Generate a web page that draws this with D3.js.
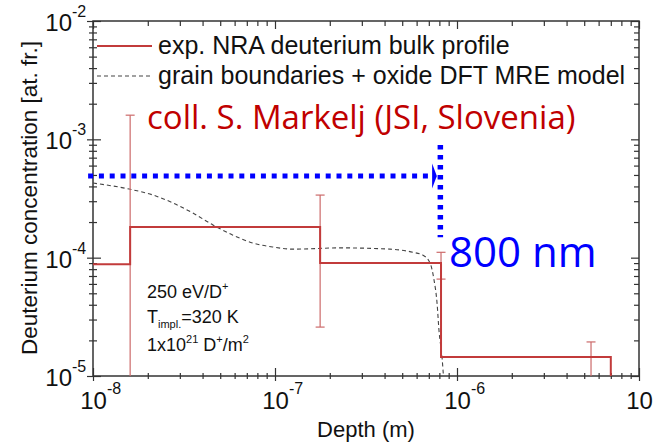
<!DOCTYPE html>
<html>
<head>
<meta charset="utf-8">
<script src="https://cdn.jsdelivr.net/npm/d3@7"></script>
<style>
  body { margin: 0; background: #fff; }
  svg text { font-family: "Liberation Sans", Arial, sans-serif; fill: #111; }
</style>
</head>
<body>
<div class="chart"></div>
<script>
//Width and height
var width = 653, height = 446;

// measured NRA step profile (depth in m, concentration in at. fr.)
var stepEdges = [1e-8, 1.6e-8, 1.77e-7, 8.17e-7, 7.0e-6];
var stepLevels = [8.8e-5, 1.82e-4, 9.0e-5, 1.45e-5];

// error bars
var errDepth = [1.6e-8, 1.77e-7, 8.17e-7, 5.45e-6];
var errLow = [5e-6, 2.59e-5, 6.59e-5, 5e-6];
var errHigh = [1.6e-3, 3.38e-4, 1.11e-4, 1.94e-5];

// grain boundaries + oxide DFT MRE model
var modelDepth = [1e-8, 1.58e-8, 2.14e-8, 2.75e-8, 3.54e-8, 4.56e-8, 5.87e-8, 7.56e-8, 9.75e-8,
    1.26e-7, 2.28e-7, 4.28e-7, 5.73e-7, 6.5e-7, 7.11e-7, 7.48e-7, 7.77e-7, 7.96e-7, 8.27e-7, 8.38e-7, 8.5e-7];
var modelConc = [4.27e-4, 3.8e-4, 3.38e-4, 2.9e-4, 2.38e-4, 1.89e-4, 1.55e-4, 1.33e-4, 1.23e-4,
    1.18e-4, 1.21e-4, 1.18e-4, 1.11e-4, 1.05e-4, 9.0e-5, 6.47e-5, 4.13e-5, 2.44e-5, 1.45e-5, 1.12e-5, 8e-6];

// blue annotation (arrow to 800 nm)
var arrowDepth = [9.4e-9, 7.3e-7, 7.75e-7];
var arrowConc = 4.9e-4;
var markDepth = 8.1e-7;
var markConc = [8.95e-4, 1.49e-4];

// axis labels
var xMajor = [1e-8, 1e-7, 1e-6, 1e-5];
var xMajorExp = ["-8", "-7", "-6", "-5"];
var yMajor = [1e-5, 1e-4, 1e-3, 1e-2];
var yMajorExp = ["-5", "-4", "-3", "-2"];

var plotLeft = 93, plotRight = 639, plotTop = 21, plotBottom = 376;

var x = d3.scaleLog().domain([1e-8, 1e-5]).range([plotLeft, plotRight]);
var y = d3.scaleLog().domain([1e-5, 1e-2]).range([plotBottom, plotTop]);

var svg = d3.select("div.chart")
    .append("svg")
    .attr("width", width)
    .attr("height", height);

svg.append("defs").append("clipPath")
    .attr("id", "plotclip")
    .append("rect")
    .attr("x", plotLeft).attr("y", plotTop)
    .attr("width", plotRight - plotLeft).attr("height", plotBottom - plotTop);

// minor ticks = all log ticks minus the decades
var xMinor = x.ticks().filter(function (d) { return xMajor.indexOf(d) < 0; });
var yMinor = y.ticks().filter(function (d) { return yMajor.indexOf(d) < 0; });

function styleAxis(g) {
    g.select(".domain").remove();
    g.selectAll(".tick line").attr("stroke", "#333").attr("stroke-width", 1.2);
}

// bottom axis: ticks cross the axis line
svg.append("g").attr("transform", "translate(0," + plotBottom + ")")
    .call(d3.axisBottom(x).tickValues(xMinor).tickSize(3).tickFormat(""))
    .call(styleAxis)
    .selectAll(".tick line").attr("y1", -3);
var xAxisMajor = svg.append("g").attr("transform", "translate(0," + plotBottom + ")")
    .call(d3.axisBottom(x).tickValues(xMajor).tickSize(5).tickFormat(""))
    .call(styleAxis);
xAxisMajor.selectAll(".tick line").attr("y1", -8);

// top and right axes, inward ticks
svg.append("g").attr("transform", "translate(0," + plotTop + ")")
    .call(d3.axisTop(x).tickValues(xMinor).tickSize(-5).tickFormat(""))
    .call(styleAxis);
svg.append("g").attr("transform", "translate(0," + plotTop + ")")
    .call(d3.axisTop(x).tickValues(xMajor).tickSize(-8).tickFormat(""))
    .call(styleAxis);
svg.append("g").attr("transform", "translate(" + plotRight + ",0)")
    .call(d3.axisRight(y).tickValues(yMinor).tickSize(-5).tickFormat(""))
    .call(styleAxis);
svg.append("g").attr("transform", "translate(" + plotRight + ",0)")
    .call(d3.axisRight(y).tickValues(yMajor).tickSize(-8).tickFormat(""))
    .call(styleAxis);

// left axis: ticks cross the axis line
svg.append("g").attr("transform", "translate(" + plotLeft + ",0)")
    .call(d3.axisLeft(y).tickValues(yMinor).tickSize(4).tickFormat(""))
    .call(styleAxis)
    .selectAll(".tick line").attr("x1", 4);
var yAxisMajor = svg.append("g").attr("transform", "translate(" + plotLeft + ",0)")
    .call(d3.axisLeft(y).tickValues(yMajor).tickSize(6).tickFormat(""))
    .call(styleAxis);
yAxisMajor.selectAll(".tick line").attr("x1", 8);

// decade labels 10^n
xAxisMajor.selectAll(".tick").each(function (d, i) {
    var t = d3.select(this);
    t.append("text").attr("x", 0).attr("y", 33).attr("text-anchor", "middle")
        .attr("fill", "#111").style("font-size", "24px").text("10");
    t.append("text").attr("x", 13.5).attr("y", 18).attr("text-anchor", "start")
        .attr("fill", "#111").style("font-size", "16px").text(xMajorExp[i]);
});
yAxisMajor.selectAll(".tick").each(function (d, i) {
    var t = d3.select(this);
    t.append("text").attr("x", -21).attr("y", 9.5).attr("text-anchor", "end")
        .attr("fill", "#111").style("font-size", "24px").text("10");
    t.append("text").attr("x", -21).attr("y", -4.5).attr("text-anchor", "start")
        .attr("fill", "#111").style("font-size", "16px").text(yMajorExp[i]);
});

// frame
svg.append("rect")
    .attr("x", plotLeft).attr("y", plotTop)
    .attr("width", plotRight - plotLeft).attr("height", plotBottom - plotTop)
    .attr("fill", "none").attr("stroke", "#333").attr("stroke-width", 1.5);

// axis titles
svg.append("text")
    .attr("x", (plotLeft + plotRight) / 2).attr("y", 437)
    .attr("text-anchor", "middle").style("font-size", "22px")
    .text("Depth (m)");
svg.append("text")
    .attr("transform", "translate(37,198) rotate(-90)")
    .attr("text-anchor", "middle").style("font-size", "22.5px")
    .text("Deuterium concentration [at. fr.]");

var plot = svg.append("g").attr("clip-path", "url(#plotclip)");

// model curve
var modelPts = modelDepth.map(function (d, i) { return [d, modelConc[i]]; });
plot.append("path")
    .datum(modelPts)
    .attr("d", d3.line()
        .x(function (d) { return x(d[0]); })
        .y(function (d) { return y(d[1]); })
        .curve(d3.curveMonotoneX))
    .attr("fill", "none")
    .attr("stroke", "#444")
    .attr("stroke-width", 1.1)
    .attr("stroke-dasharray", "4,3");

// error bars
var red = "#c23b3b";
errDepth.forEach(function (d, i) {
    plot.append("line")
        .attr("x1", x(d)).attr("x2", x(d))
        .attr("y1", y(errLow[i])).attr("y2", y(errHigh[i]))
        .attr("stroke", "#cc6a6a").attr("stroke-width", 1.2);
    [errLow[i], errHigh[i]].forEach(function (v) {
        plot.append("line")
            .attr("x1", x(d) - 4.5).attr("x2", x(d) + 4.5)
            .attr("y1", y(v)).attr("y2", y(v))
            .attr("stroke", "#cc6a6a").attr("stroke-width", 1.2);
    });
});

// step profile, dropping to the axis at the end
var stepPts = stepLevels.map(function (v, i) { return [stepEdges[i], v]; });
stepPts.push([stepEdges[stepEdges.length - 1], stepLevels[stepLevels.length - 1]]);
stepPts.push([stepEdges[stepEdges.length - 1], y.domain()[0]]);
plot.append("path")
    .datum(stepPts)
    .attr("d", d3.line()
        .x(function (d) { return x(d[0]); })
        .y(function (d) { return y(d[1]); })
        .curve(d3.curveStepAfter))
    .attr("fill", "none")
    .attr("stroke", red)
    .attr("stroke-width", 2);

// legend
svg.append("line").attr("x1", 97).attr("x2", 152).attr("y1", 46).attr("y2", 46)
    .attr("stroke", red).attr("stroke-width", 2);
svg.append("text").attr("x", 158).attr("y", 54).style("font-size", "25px")
    .text("exp. NRA deuterium bulk profile");
svg.append("line").attr("x1", 97).attr("x2", 152).attr("y1", 76).attr("y2", 76)
    .attr("stroke", "#444").attr("stroke-width", 1.1).attr("stroke-dasharray", "4,3");
svg.append("text").attr("x", 158).attr("y", 84).style("font-size", "25px")
    .text("grain boundaries + oxide DFT MRE model");

// implantation conditions
var cond = svg.append("g").style("font-size", "18px");
var t1 = cond.append("text").attr("x", 147).attr("y", 298);
t1.append("tspan").text("250 eV/D");
t1.append("tspan").attr("dy", -8).style("font-size", "11px").text("+");
var t2 = cond.append("text").attr("x", 147).attr("y", 323);
t2.append("tspan").text("T");
t2.append("tspan").attr("dy", 5).style("font-size", "11px").text("impl.");
t2.append("tspan").attr("dy", -5).text("=320 K");
var t3 = cond.append("text").attr("x", 147).attr("y", 351);
t3.append("tspan").text("1x10");
t3.append("tspan").attr("dy", -8).style("font-size", "11px").text("21");
t3.append("tspan").attr("dy", 8).text(" D");
t3.append("tspan").attr("dy", -8).style("font-size", "11px").text("+");
t3.append("tspan").attr("dy", 8).text("/m");
t3.append("tspan").attr("dy", -8).style("font-size", "11px").text("2");

// blue arrow annotation
var blue = "#0000ff";
svg.append("line")
    .attr("x1", x(arrowDepth[0])).attr("x2", x(arrowDepth[1]))
    .attr("y1", y(arrowConc)).attr("y2", y(arrowConc))
    .attr("stroke", blue).attr("stroke-width", 5)
    .attr("stroke-dasharray", "5,5.8");
svg.append("path")
    .attr("d", "M" + x(arrowDepth[1]) + "," + (y(arrowConc) - 12.5) +
        "L" + x(arrowDepth[2]) + "," + y(arrowConc) +
        "L" + x(arrowDepth[1]) + "," + (y(arrowConc) + 12.5) + "Z")
    .attr("fill", blue);
svg.append("line")
    .attr("x1", x(markDepth)).attr("x2", x(markDepth))
    .attr("y1", y(markConc[0])).attr("y2", y(markConc[1]))
    .attr("stroke", blue).attr("stroke-width", 5.5)
    .attr("stroke-dasharray", "4.5,5.5");

svg.append("text")
    .attr("x", 147).attr("y", 129)
    .style("font-family", "'Open Sans', sans-serif")
    .style("font-size", "33px")
    .style("fill", "#c00000")
    .text("coll. S. Markelj (JSI, Slovenia)");
svg.append("text")
    .attr("x", 449).attr("y", 267)
    .style("font-family", "'Open Sans', sans-serif")
    .style("font-size", "42px")
    .style("fill", blue)
    .text("800 nm");
</script>
</body>
</html>
